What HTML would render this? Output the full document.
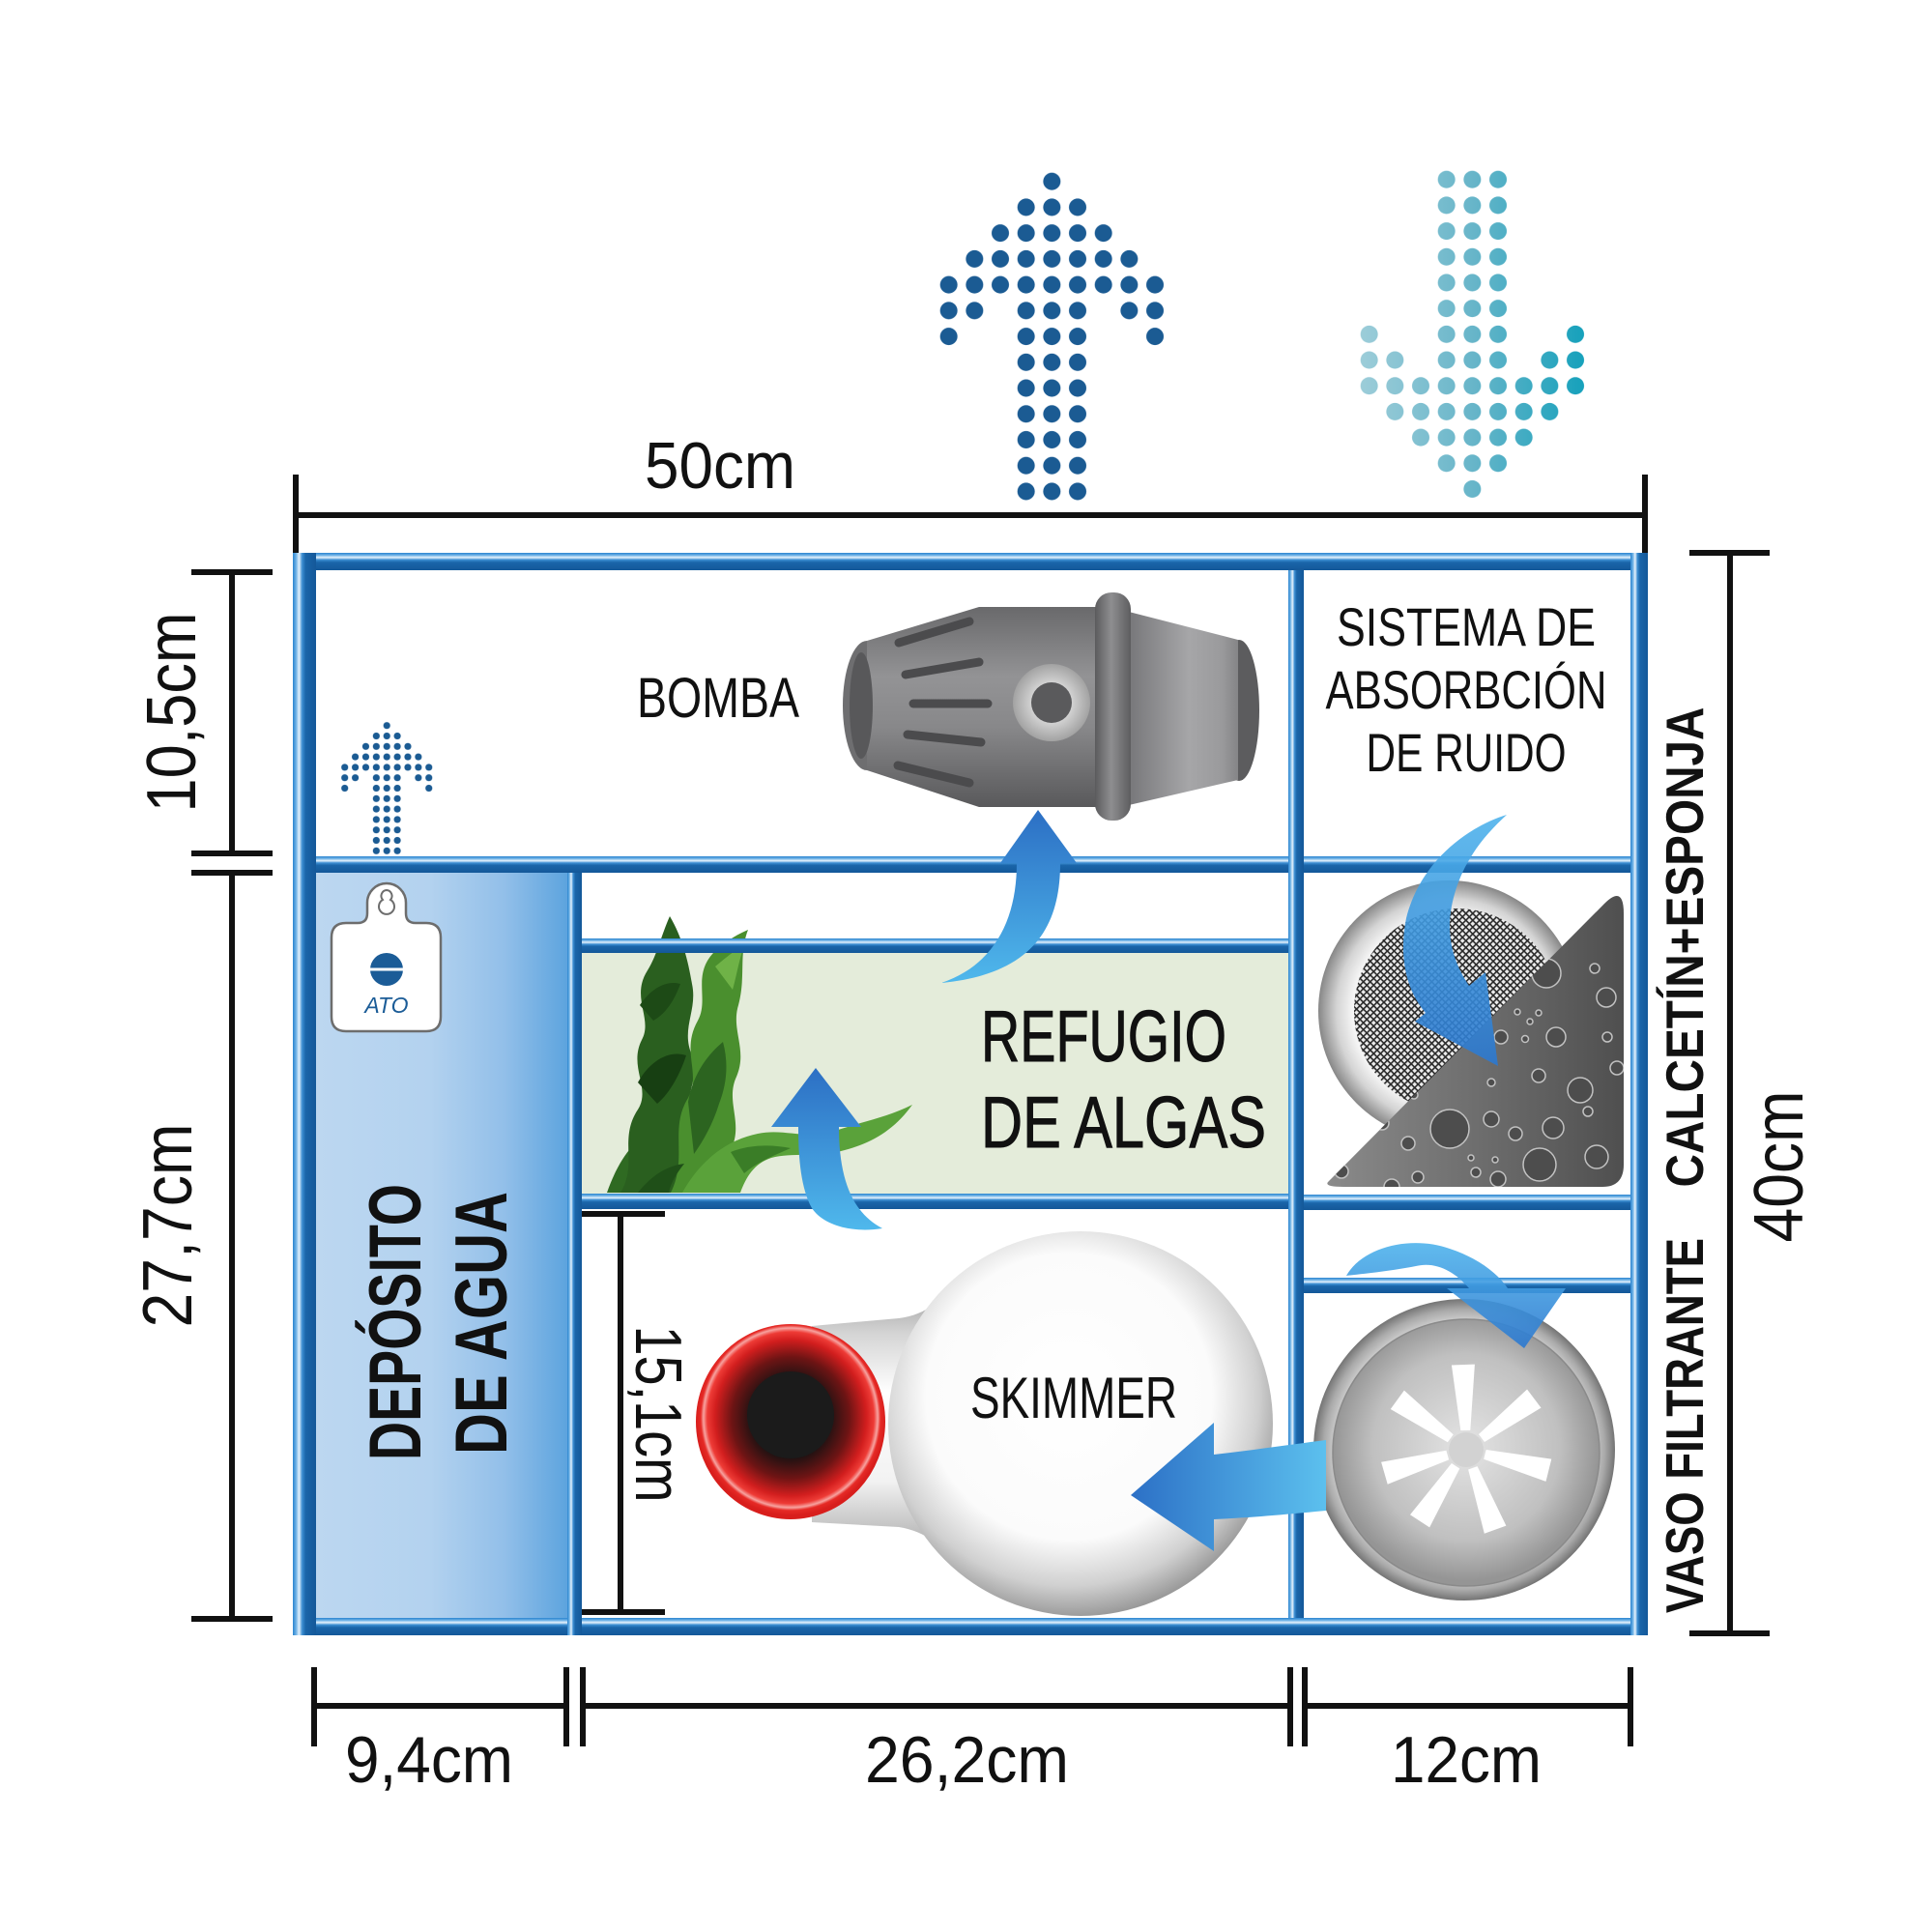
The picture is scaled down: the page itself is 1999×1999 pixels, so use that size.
<!DOCTYPE html>
<html>
<head>
<meta charset="utf-8">
<style>
html,body{margin:0;padding:0;background:#fff;}
svg{display:block;}
</style>
</head>
<body>
<svg width="1999" height="1999" viewBox="0 0 1999 1999" xmlns="http://www.w3.org/2000/svg" font-family="'Liberation Sans', Arial, sans-serif">
<defs>
  <linearGradient id="ht" x1="0" y1="0" x2="0" y2="1">
    <stop offset="0" stop-color="#2a84cf"/>
    <stop offset="0.14" stop-color="#6fb2e6"/>
    <stop offset="0.27" stop-color="#e6f2fc"/>
    <stop offset="0.4" stop-color="#3d8fd3"/>
    <stop offset="0.55" stop-color="#1a65a9"/>
    <stop offset="1" stop-color="#145899"/>
  </linearGradient>
  <linearGradient id="vt" x1="0" y1="0" x2="1" y2="0">
    <stop offset="0" stop-color="#2a84cf"/>
    <stop offset="0.14" stop-color="#6fb2e6"/>
    <stop offset="0.27" stop-color="#e6f2fc"/>
    <stop offset="0.4" stop-color="#3d8fd3"/>
    <stop offset="0.55" stop-color="#1a65a9"/>
    <stop offset="1" stop-color="#145899"/>
  </linearGradient>
  <linearGradient id="res" x1="327" y1="0" x2="587" y2="0" gradientUnits="userSpaceOnUse">
    <stop offset="0" stop-color="#bcd7f0"/>
    <stop offset="0.45" stop-color="#b3d2ef"/>
    <stop offset="0.75" stop-color="#92bfe9"/>
    <stop offset="1" stop-color="#5da4de"/>
  </linearGradient>
  <linearGradient id="pumpL" x1="0" y1="0" x2="0" y2="1">
    <stop offset="0" stop-color="#69696b"/>
    <stop offset="0.35" stop-color="#939395"/>
    <stop offset="0.6" stop-color="#88888a"/>
    <stop offset="1" stop-color="#59595b"/>
  </linearGradient>
  <linearGradient id="pumpR" x1="0" y1="0" x2="1" y2="0">
    <stop offset="0" stop-color="#77777a"/>
    <stop offset="0.55" stop-color="#a6a6a8"/>
    <stop offset="0.85" stop-color="#9a9a9c"/>
    <stop offset="1" stop-color="#858587"/>
  </linearGradient>
  <linearGradient id="flange" x1="0" y1="0" x2="1" y2="0">
    <stop offset="0" stop-color="#5b5b5d"/>
    <stop offset="0.45" stop-color="#8e8e90"/>
    <stop offset="1" stop-color="#5d5d5f"/>
  </linearGradient>
  <radialGradient id="port" cx="0.5" cy="0.5" r="0.5">
    <stop offset="0.5" stop-color="#d4d4d4"/>
    <stop offset="1" stop-color="#a2a2a2"/>
  </radialGradient>
  <linearGradient id="arrUp" x1="0" y1="0" x2="0" y2="1">
    <stop offset="0" stop-color="#2c6fc4"/>
    <stop offset="1" stop-color="#4fb8ec"/>
  </linearGradient>
  <linearGradient id="arrR" x1="0" y1="0" x2="0" y2="1">
    <stop offset="0" stop-color="#4fb3ec"/>
    <stop offset="1" stop-color="#2c78cf"/>
  </linearGradient>
  <linearGradient id="arrL" x1="0" y1="0" x2="1" y2="0">
    <stop offset="0" stop-color="#2c70c6"/>
    <stop offset="1" stop-color="#5cc0ee"/>
  </linearGradient>
  <linearGradient id="neck" x1="0" y1="0" x2="0" y2="1">
    <stop offset="0" stop-color="#8a8a8a"/>
    <stop offset="0.2" stop-color="#d4d4d4"/>
    <stop offset="0.4" stop-color="#ffffff"/>
    <stop offset="0.7" stop-color="#f2f2f2"/>
    <stop offset="0.9" stop-color="#b5b5b5"/>
    <stop offset="1" stop-color="#858585"/>
  </linearGradient>
  <radialGradient id="skim" cx="0.47" cy="0.43" r="0.6">
    <stop offset="0" stop-color="#ffffff"/>
    <stop offset="0.62" stop-color="#fbfbfb"/>
    <stop offset="0.82" stop-color="#d0d0d0"/>
    <stop offset="1" stop-color="#888888"/>
  </radialGradient>
  <radialGradient id="cup" cx="0.5" cy="0.48" r="0.5">
    <stop offset="0" stop-color="#151515"/>
    <stop offset="0.42" stop-color="#231212"/>
    <stop offset="0.62" stop-color="#6d1414"/>
    <stop offset="0.8" stop-color="#d21e1e"/>
    <stop offset="0.88" stop-color="#ee3b36"/>
    <stop offset="0.92" stop-color="#f7a3a0"/>
    <stop offset="0.95" stop-color="#e62a26"/>
    <stop offset="1" stop-color="#d81e1c"/>
  </radialGradient>
  <radialGradient id="sock" cx="0.5" cy="0.5" r="0.5">
    <stop offset="0" stop-color="#ffffff"/>
    <stop offset="0.7" stop-color="#ffffff"/>
    <stop offset="0.86" stop-color="#d4d4d4"/>
    <stop offset="1" stop-color="#878787"/>
  </radialGradient>
  <radialGradient id="fout" cx="0.5" cy="0.5" r="0.5">
    <stop offset="0" stop-color="#eeeeee"/>
    <stop offset="0.84" stop-color="#d6d6d6"/>
    <stop offset="0.93" stop-color="#aaaaaa"/>
    <stop offset="1" stop-color="#747474"/>
  </radialGradient>
  <radialGradient id="fin" cx="0.5" cy="0.48" r="0.5">
    <stop offset="0" stop-color="#e4e4e4"/>
    <stop offset="0.7" stop-color="#c0c0c0"/>
    <stop offset="1" stop-color="#959595"/>
  </radialGradient>
  <linearGradient id="sp" x1="0" y1="0" x2="1" y2="0">
    <stop offset="0" stop-color="#8a8a8a"/>
    <stop offset="0.5" stop-color="#6e6e6e"/>
    <stop offset="1" stop-color="#4f4f4f"/>
  </linearGradient>
  <pattern id="hatch" patternUnits="userSpaceOnUse" width="5" height="5" patternTransform="rotate(45)">
    <rect width="5" height="5" fill="#ececec"/>
    <path d="M0,0.8H5M0.8,0V5" stroke="#2a2a2a" stroke-width="1.6"/>
  </pattern>
  <pattern id="dotD" patternUnits="userSpaceOnUse" x="968.33" y="174.33" width="26.67" height="26.73">
    <circle cx="13.335" cy="13.365" r="9" fill="#1b5b93"/>
  </pattern>
  <pattern id="dotW" patternUnits="userSpaceOnUse" x="1403.33" y="172.35" width="26.67" height="26.69">
    <circle cx="13.335" cy="13.345" r="9" fill="#fff"/>
  </pattern>
  <pattern id="dotS" patternUnits="userSpaceOnUse" x="351.26" y="745.3" width="10.88" height="10.8">
    <circle cx="5.44" cy="5.4" r="3.6" fill="#1b5b93"/>
  </pattern>
  <linearGradient id="lightG" x1="1405" y1="0" x2="1645" y2="0" gradientUnits="userSpaceOnUse">
    <stop offset="0" stop-color="#9dcdd9"/>
    <stop offset="0.5" stop-color="#67b5c9"/>
    <stop offset="1" stop-color="#12a0bb"/>
  </linearGradient>
  <mask id="lightMask" maskUnits="userSpaceOnUse" x="1390" y="160" width="260" height="370">
    <g fill="url(#dotW)">
      <rect x="1483.34" y="172.35" width="80.01" height="320.28"/>
      <rect x="1510.01" y="492.63" width="26.67" height="26.69"/>
      <rect x="1403.33" y="332.49" width="26.67" height="80.07"/>
      <rect x="1616.69" y="332.49" width="26.67" height="80.07"/>
      <rect x="1430.00" y="359.18" width="26.67" height="80.07"/>
      <rect x="1590.02" y="359.18" width="26.67" height="80.07"/>
      <rect x="1456.67" y="385.87" width="26.67" height="80.07"/>
      <rect x="1563.35" y="385.87" width="26.67" height="80.07"/>
    </g>
  </mask>
  <clipPath id="spClip">
    <path d="M1375,1222 L1660,935 Q1680,915 1680,945 L1680,1205 Q1680,1228 1658,1228 L1390,1228 Q1368,1228 1375,1222 Z"/>
  </clipPath>
  <clipPath id="refClip">
    <rect x="602" y="940" width="731" height="295"/>
  </clipPath>
</defs>

<rect width="1999" height="1999" fill="#fff"/>

<!-- dotted arrows top -->
<g fill="url(#dotD)">
  <rect x="1048.34" y="201.06" width="80.01" height="320.76"/>
  <rect x="1075.01" y="174.33" width="26.67" height="26.73"/>
  <rect x="1021.67" y="227.79" width="26.67" height="80.19"/>
  <rect x="1128.35" y="227.79" width="26.67" height="80.19"/>
  <rect x="995.00" y="254.52" width="26.67" height="80.19"/>
  <rect x="1155.02" y="254.52" width="26.67" height="80.19"/>
  <rect x="968.33" y="281.25" width="26.67" height="80.19"/>
  <rect x="1181.69" y="281.25" width="26.67" height="80.19"/>
</g>
<rect x="1395" y="165" width="255" height="360" fill="url(#lightG)" mask="url(#lightMask)"/>

<!-- fills -->
<rect x="327" y="903" width="260" height="771" fill="url(#res)"/>
<rect x="602" y="986" width="731" height="249" fill="#e4ecda"/>

<!-- algae -->
<g clip-path="url(#refClip)">
  <path d="M628,1234 C640,1200 655,1180 682,1162 C694,1155 702,1152 710,1150 C694,1172 680,1195 672,1234 Z" fill="#2f6a22"/>
  <path d="M642,1234 C660,1205 640,1178 660,1148 C674,1126 650,1104 664,1076 C676,1054 652,1032 670,1004 C680,988 684,968 693,948 C706,970 712,994 716,1018 C722,1046 704,1064 716,1092 C726,1116 704,1134 718,1162 C728,1188 708,1212 704,1234 Z" fill="#2a5f1f"/>
  <path d="M660,1120 C672,1098 692,1086 710,1092 C704,1110 694,1130 680,1142 Z" fill="#173f12"/>
  <path d="M662,1040 C674,1022 690,1014 704,1018 C698,1034 690,1048 676,1056 Z" fill="#1d4a16"/>
  <path d="M694,1234 C712,1198 692,1168 712,1136 C726,1110 704,1088 722,1056 C734,1034 716,1010 738,986 C748,976 760,968 774,962 C764,988 772,1010 764,1040 C756,1066 774,1086 762,1114 C750,1140 770,1162 756,1190 C748,1208 752,1222 752,1234 Z" fill="#4a8f2e"/>
  <path d="M740,1000 C752,990 762,982 770,978 C764,996 762,1010 758,1024 Z" fill="#6fb247"/>
  <path d="M712,1140 C718,1108 734,1090 748,1078 C754,1100 752,1122 744,1142 C738,1162 728,1180 718,1194 Z" fill="#2c6420"/>
  <path d="M706,1234 C724,1202 750,1180 784,1173 C812,1167 834,1180 864,1170 C894,1160 918,1156 944,1143 C926,1168 904,1182 874,1190 C846,1198 820,1192 798,1198 C780,1204 772,1218 766,1234 Z" fill="#5aa23a"/>
  <path d="M756,1192 C776,1184 798,1184 818,1188 C800,1196 784,1202 770,1214 Z" fill="#3a7d27"/>
  <path d="M660,1234 C676,1214 692,1206 708,1204 C700,1214 694,1224 692,1234 Z" fill="#1f4f18"/>
</g>

<!-- tubes -->
<rect x="303" y="572" width="1402" height="18" fill="url(#ht)"/>
<rect x="303" y="1674" width="1402" height="18" fill="url(#ht)"/>
<rect x="327" y="886" width="1360" height="17" fill="url(#ht)"/>
<rect x="602" y="971" width="731" height="15" fill="url(#ht)"/>
<rect x="602" y="1235" width="731" height="16" fill="url(#ht)"/>
<rect x="1349" y="1236" width="338" height="16" fill="url(#ht)"/>
<rect x="1349" y="1322" width="338" height="16" fill="url(#ht)"/>
<rect x="303" y="572" width="24" height="1120" fill="url(#vt)"/>
<rect x="1687" y="572" width="18" height="1120" fill="url(#vt)"/>
<rect x="587" y="903" width="15" height="789" fill="url(#vt)"/>
<rect x="1333" y="590" width="16" height="1084" fill="url(#vt)"/>

<!-- pump -->
<g>
  <ellipse cx="897" cy="730" rx="25" ry="67" fill="#6e6e70"/>
  <path d="M897,663 L1013,628 L1140,628 L1140,835 L1013,835 L897,797 Z" fill="url(#pumpL)"/>
  <ellipse cx="891" cy="730" rx="12" ry="55" fill="#58585a"/>
  <g stroke="#4b4b4d" stroke-width="9" stroke-linecap="round">
    <line x1="930" y1="665" x2="1003" y2="643"/>
    <line x1="937" y1="698" x2="1013" y2="685"/>
    <line x1="945" y1="728" x2="1022" y2="728"/>
    <line x1="939" y1="760" x2="1015" y2="768"/>
    <line x1="929" y1="792" x2="1003" y2="810"/>
  </g>
  <circle cx="1088" cy="727" r="40" fill="url(#port)"/>
  <circle cx="1088" cy="727" r="21" fill="#5a5a5c"/>
  <ellipse cx="1282" cy="735" rx="21" ry="73" fill="#5c5c5e"/>
  <path d="M1168,633 L1281,662 L1281,807 L1168,833 Z" fill="url(#pumpR)"/>
  <rect x="1133" y="613" width="37" height="236" rx="17" fill="url(#flange)"/>
</g>
<!-- pump arrow -->
<path d="M1074,838 L1114,893 L1097,893 C1097,960 1068,1008 974,1017 C1030,998 1052,950 1052,893 L1035,893 Z" fill="url(#arrUp)"/>
<!-- refugium arrow -->
<path d="M844,1105 L891,1166 L868,1166 C868,1220 882,1255 913,1271 C882,1276 852,1268 840,1250 C829,1230 826,1200 826,1166 L798,1166 Z" fill="url(#arrUp)"/>

<!-- skimmer -->
<path d="M840,1372 L930,1364 C960,1360 975,1345 995,1318 L995,1625 C975,1600 960,1585 930,1580 L840,1575 Z" fill="url(#neck)"/>
<circle cx="1118" cy="1473" r="199" fill="url(#skim)"/>
<ellipse cx="818" cy="1471" rx="98" ry="101" fill="url(#cup)"/>
<circle cx="818" cy="1464" r="45" fill="#1b1b1b"/>
<text x="1004" y="1467" font-size="60" textLength="214" lengthAdjust="spacingAndGlyphs" fill="#111">SKIMMER</text>

<!-- sock + sponge -->
<circle cx="1499" cy="1046" r="135" fill="url(#sock)"/>
<circle cx="1507" cy="1046" r="106" fill="url(#hatch)"/>
<path d="M1375,1222 L1660,935 Q1680,915 1680,945 L1680,1205 Q1680,1228 1658,1228 L1390,1228 Q1368,1228 1375,1222 Z" fill="url(#sp)"/>
<g clip-path="url(#spClip)" fill="#4d4d4d" stroke="#c2c2c2" stroke-width="1.5">
  <circle cx="1600" cy="1007" r="15"/>
  <circle cx="1650" cy="1002" r="5"/>
  <circle cx="1662" cy="1032" r="10"/>
  <circle cx="1570" cy="1047" r="3"/>
  <circle cx="1592" cy="1048" r="3"/>
  <circle cx="1583" cy="1057" r="3"/>
  <circle cx="1553" cy="1073" r="7"/>
  <circle cx="1578" cy="1075" r="3.5"/>
  <circle cx="1610" cy="1073" r="10"/>
  <circle cx="1663" cy="1073" r="5"/>
  <circle cx="1673" cy="1105" r="7"/>
  <circle cx="1592" cy="1113" r="7"/>
  <circle cx="1543" cy="1120" r="4"/>
  <circle cx="1635" cy="1128" r="13"/>
  <circle cx="1463" cy="1133" r="4"/>
  <circle cx="1643" cy="1150" r="5"/>
  <circle cx="1543" cy="1158" r="8"/>
  <circle cx="1500" cy="1168" r="20"/>
  <circle cx="1607" cy="1167" r="11"/>
  <circle cx="1568" cy="1173" r="7"/>
  <circle cx="1430" cy="1162" r="7"/>
  <circle cx="1457" cy="1183" r="7"/>
  <circle cx="1652" cy="1197" r="12"/>
  <circle cx="1522" cy="1198" r="3"/>
  <circle cx="1547" cy="1200" r="3"/>
  <circle cx="1593" cy="1205" r="17"/>
  <circle cx="1388" cy="1212" r="7"/>
  <circle cx="1527" cy="1213" r="5"/>
  <circle cx="1467" cy="1218" r="6"/>
  <circle cx="1550" cy="1220" r="8"/>
  <circle cx="1440" cy="1228" r="8"/>
</g>
<path d="M1559,843 C1520,855 1470,890 1455,950 C1447,990 1455,1025 1475,1048 L1464,1057 L1550,1103 L1537,1006 L1520,1020 C1500,990 1495,960 1505,925 C1515,890 1535,865 1559,843 Z" fill="url(#arrR)" opacity="0.9"/>

<!-- filter vessel -->
<circle cx="1515" cy="1500" r="156" fill="url(#fout)"/>
<circle cx="1517" cy="1503" r="138" fill="url(#fin)" stroke="#8a8a8a" stroke-width="1.5"/>
<g transform="translate(1517,1500)" fill="#ffffff">
  <path d="M-5,-20 L5,-20 L12,-88 L-12,-88 Z" transform="rotate(-2)"/>
  <path d="M-5,-20 L5,-20 L12,-88 L-12,-88 Z" transform="rotate(53)"/>
  <path d="M-5,-20 L5,-20 L12,-88 L-12,-88 Z" transform="rotate(104)"/>
  <path d="M-5,-20 L5,-20 L12,-88 L-12,-88 Z" transform="rotate(160)"/>
  <path d="M-5,-20 L5,-20 L12,-88 L-12,-88 Z" transform="rotate(213)"/>
  <path d="M-5,-20 L5,-20 L12,-88 L-12,-88 Z" transform="rotate(254)"/>
  <path d="M-5,-20 L5,-20 L12,-88 L-12,-88 Z" transform="rotate(306)"/>
  <circle cx="0" cy="0" r="18" fill="#d2d2d2"/>
</g>
<path d="M1393,1320 C1410,1290 1460,1278 1500,1292 C1530,1302 1550,1318 1560,1333 L1620,1333 L1577,1395 L1497,1333 L1520,1333 C1505,1315 1485,1305 1465,1310 C1440,1315 1410,1318 1393,1320 Z" fill="url(#arrR)" opacity="0.9"/>
<!-- skimmer arrow -->
<path d="M1170,1547 L1256,1472 L1256,1505 C1300,1500 1340,1494 1372,1490 L1372,1563 C1340,1566 1300,1570 1256,1572 L1256,1605 Z" fill="url(#arrL)"/>

<!-- small dotted arrow -->
<g fill="url(#dotS)">
  <rect x="383.90" y="756.1" width="32.64" height="129.6"/>
  <rect x="394.78" y="745.3" width="10.88" height="10.8"/>
  <rect x="373.02" y="766.9" width="10.88" height="32.4"/>
  <rect x="416.54" y="766.9" width="10.88" height="32.4"/>
  <rect x="362.14" y="777.7" width="10.88" height="32.4"/>
  <rect x="427.42" y="777.7" width="10.88" height="32.4"/>
  <rect x="351.26" y="788.5" width="10.88" height="32.4"/>
  <rect x="438.30" y="788.5" width="10.88" height="32.4"/>
</g>

<!-- ATO -->
<path d="M343,970 Q343,955 358,955 L370,955 Q380,955 380,945 L380,934 A20,20 0 0 1 420,934 L420,945 Q420,955 430,955 L441,955 Q456,955 456,970 L456,1052 Q456,1067 441,1067 L358,1067 Q343,1067 343,1052 Z" fill="#fff" stroke="#6d6d6d" stroke-width="2.5"/>
<path d="M400,921 a6,6 0 0 1 4,10 a8,8 0 1 1 -8,0 a6,6 0 0 1 4,-10 Z" fill="#fff" stroke="#6d6d6d" stroke-width="2"/>
<circle cx="400" cy="1003" r="17" fill="#1b5c97"/>
<line x1="383" y1="1003" x2="417" y2="1003" stroke="#fff" stroke-width="3"/>
<text x="400" y="1048" font-size="23" font-style="italic" fill="#1b5c97" text-anchor="middle">ATO</text>

<!-- dimension lines -->
<g stroke="#111" stroke-width="6" fill="none">
  <line x1="303" y1="533" x2="1705" y2="533"/>
  <line x1="306" y1="491" x2="306" y2="572"/>
  <line x1="1702" y1="491" x2="1702" y2="572"/>
  <line x1="198" y1="592" x2="282" y2="592"/>
  <line x1="240" y1="592" x2="240" y2="883"/>
  <line x1="198" y1="883" x2="282" y2="883"/>
  <line x1="198" y1="903" x2="282" y2="903"/>
  <line x1="240" y1="903" x2="240" y2="1675"/>
  <line x1="198" y1="1675" x2="282" y2="1675"/>
  <line x1="1748" y1="572" x2="1831" y2="572"/>
  <line x1="1790" y1="572" x2="1790" y2="1690"/>
  <line x1="1748" y1="1690" x2="1831" y2="1690"/>
  <line x1="325" y1="1765" x2="586" y2="1765"/>
  <line x1="603" y1="1765" x2="1335" y2="1765"/>
  <line x1="1350" y1="1765" x2="1687" y2="1765"/>
  <line x1="325" y1="1725" x2="325" y2="1807"/>
  <line x1="586" y1="1725" x2="586" y2="1807"/>
  <line x1="603" y1="1725" x2="603" y2="1807"/>
  <line x1="1335" y1="1725" x2="1335" y2="1807"/>
  <line x1="1350" y1="1725" x2="1350" y2="1807"/>
  <line x1="1687" y1="1725" x2="1687" y2="1807"/>
  <line x1="642" y1="1256" x2="642" y2="1668"/>
  <line x1="602" y1="1256" x2="688" y2="1256"/>
  <line x1="602" y1="1668" x2="688" y2="1668"/>
</g>

<!-- labels -->
<g fill="#111">
  <text x="667" y="505" font-size="68" textLength="156" lengthAdjust="spacingAndGlyphs">50cm</text>
  <text x="357" y="1844" font-size="68" textLength="174" lengthAdjust="spacingAndGlyphs">9,4cm</text>
  <text x="895" y="1844" font-size="68" textLength="211" lengthAdjust="spacingAndGlyphs">26,2cm</text>
  <text x="1439" y="1844" font-size="68" textLength="156" lengthAdjust="spacingAndGlyphs">12cm</text>
  <text transform="translate(202,737) rotate(-90)" text-anchor="middle" font-size="72" textLength="207" lengthAdjust="spacingAndGlyphs">10,5cm</text>
  <text transform="translate(198,1268) rotate(-90)" text-anchor="middle" font-size="72" textLength="211" lengthAdjust="spacingAndGlyphs">27,7cm</text>
  <text transform="translate(1865,1207) rotate(-90)" text-anchor="middle" font-size="72" textLength="157" lengthAdjust="spacingAndGlyphs">40cm</text>
  <text transform="translate(658,1463) rotate(90)" text-anchor="middle" font-size="68" textLength="183" lengthAdjust="spacingAndGlyphs">15,1cm</text>
  <text x="659" y="742" font-size="58" textLength="168" lengthAdjust="spacingAndGlyphs">BOMBA</text>
  <text x="1517" y="668" font-size="56" text-anchor="middle" textLength="268" lengthAdjust="spacingAndGlyphs">SISTEMA DE</text>
  <text x="1517" y="733" font-size="56" text-anchor="middle" textLength="291" lengthAdjust="spacingAndGlyphs">ABSORBCIÓN</text>
  <text x="1517" y="798" font-size="56" text-anchor="middle" textLength="207" lengthAdjust="spacingAndGlyphs">DE RUIDO</text>
  <text x="1015" y="1098" font-size="75" stroke="#111" stroke-width="1" textLength="254" lengthAdjust="spacingAndGlyphs">REFUGIO</text>
  <text x="1015" y="1187" font-size="75" stroke="#111" stroke-width="1" textLength="295" lengthAdjust="spacingAndGlyphs">DE ALGAS</text>
  <text transform="translate(435,1368) rotate(-90)" text-anchor="middle" font-size="76" font-weight="bold" textLength="286" lengthAdjust="spacingAndGlyphs">DEPÓSITO</text>
  <text transform="translate(524,1369) rotate(-90)" text-anchor="middle" font-size="76" font-weight="bold" textLength="272" lengthAdjust="spacingAndGlyphs">DE AGUA</text>
  <text transform="translate(1762,980) rotate(-90)" text-anchor="middle" font-size="55" font-weight="bold" textLength="497" lengthAdjust="spacingAndGlyphs">CALCETÍN+ESPONJA</text>
  <text transform="translate(1762,1475) rotate(-90)" text-anchor="middle" font-size="55" font-weight="bold" textLength="388" lengthAdjust="spacingAndGlyphs">VASO FILTRANTE</text>
</g>
</svg>
</body>
</html>
